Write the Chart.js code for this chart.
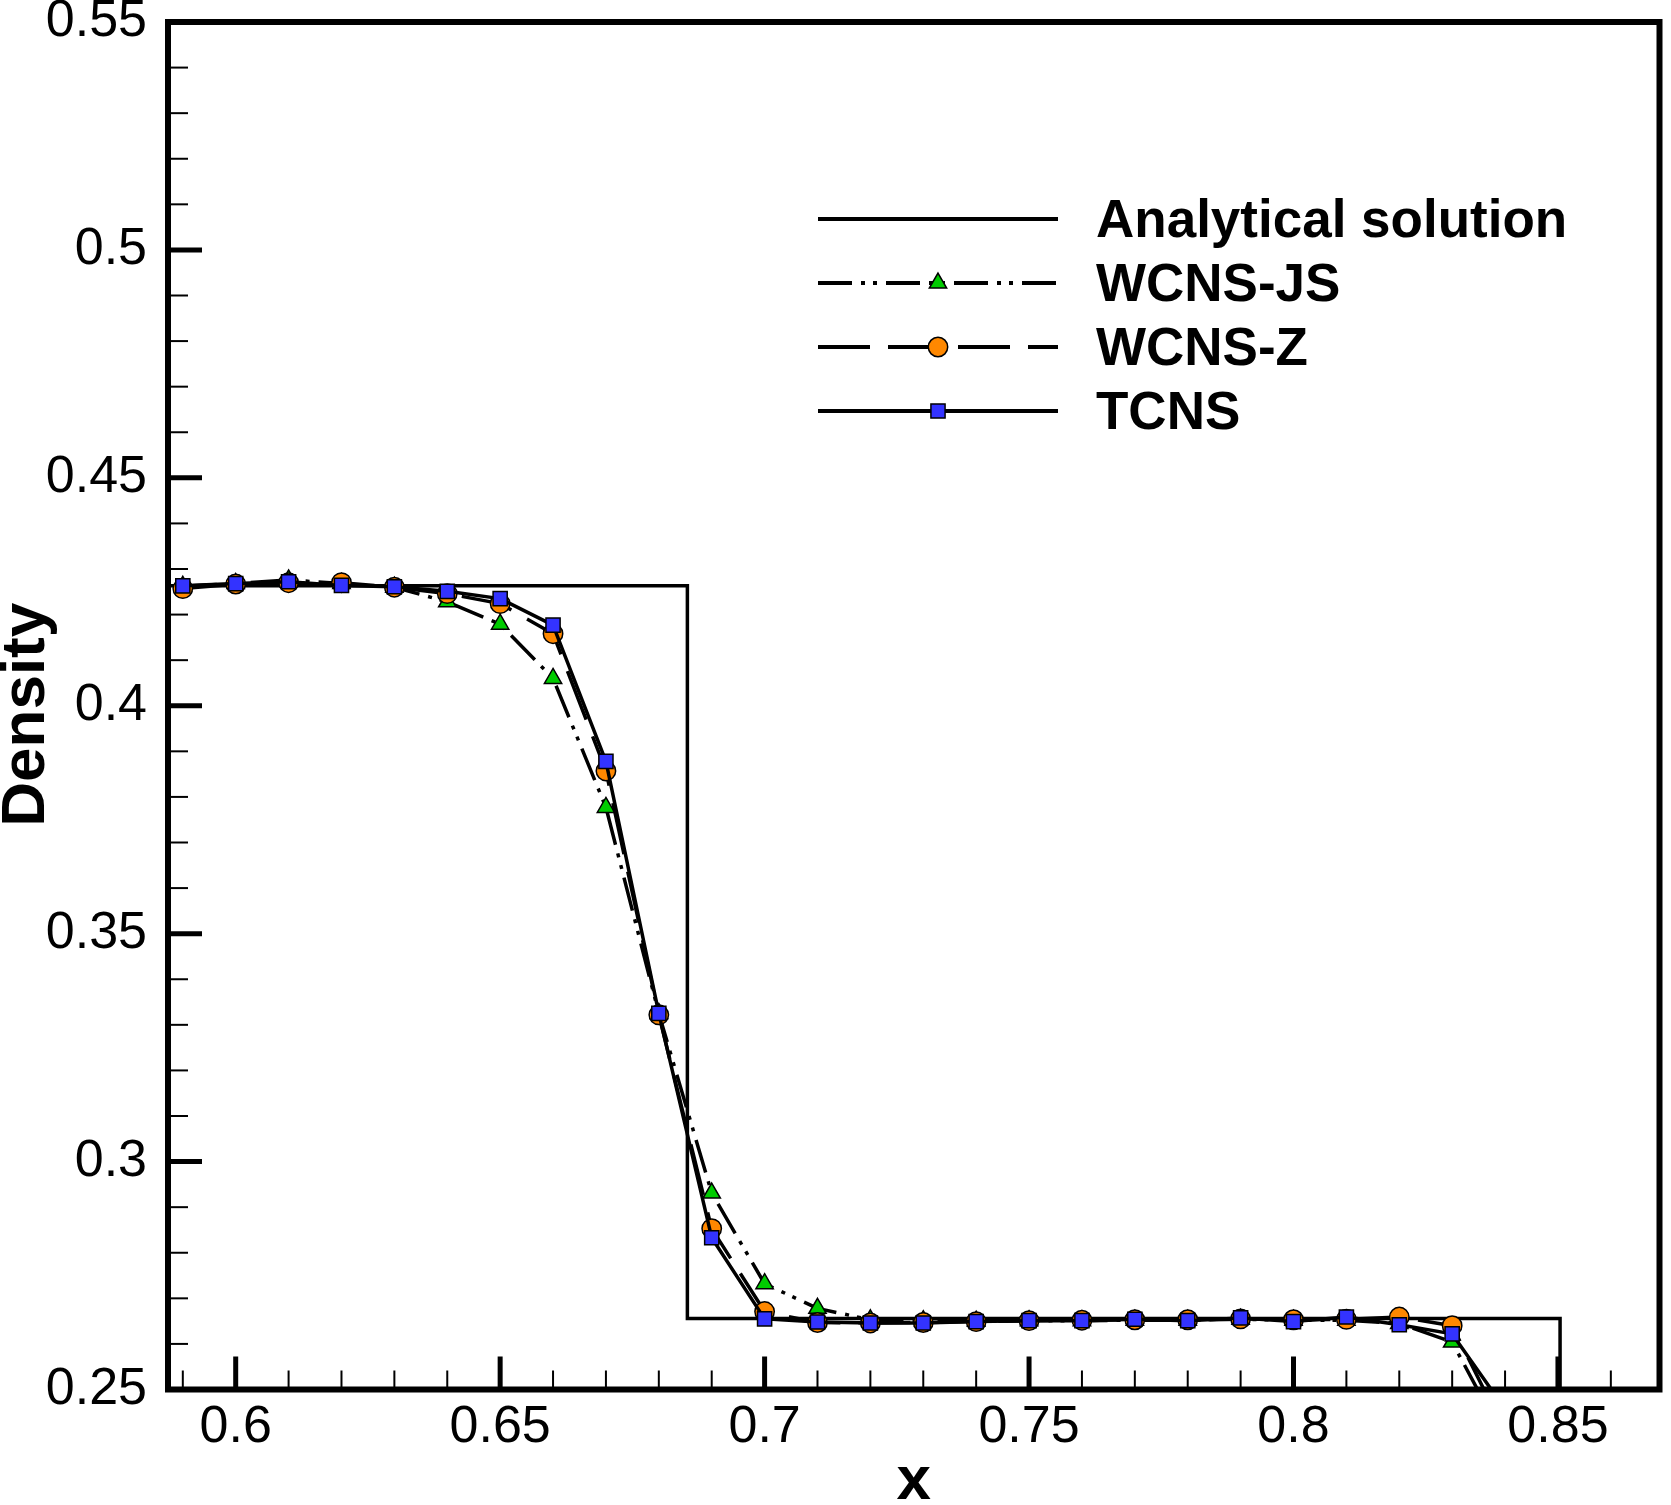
<!DOCTYPE html>
<html>
<head>
<meta charset="utf-8">
<script src="https://cdn.jsdelivr.net/npm/chart.js@4.4.1/dist/chart.umd.min.js"></script>
<style>
html,body{margin:0;padding:0;background:#fff;}
canvas{display:block;}
</style>
</head>
<body>
<canvas id="c" width="1671" height="1505"></canvas>
<script>
// ---------- data ----------
const xGrid  = [0.59,0.60,0.61,0.62,0.63,0.64,0.65,0.66,0.67,0.68,0.69,0.70,0.71,0.72,0.73,0.74,0.75,0.76,0.77,0.78,0.79,0.80,0.81,0.82,0.83,0.84];
const wcnsJS = [0.4262,0.4268,0.4276,0.4268,0.4260,0.4228,0.4179,0.4060,0.3777,0.3325,0.2931,0.2732,0.2678,0.2653,0.2651,0.2650,0.2651,0.2651,0.2652,0.2652,0.2654,0.2652,0.2652,0.2645,0.2604,0.2387];
const wcnsZ  = [0.4257,0.4267,0.4270,0.4270,0.4260,0.4246,0.4224,0.4158,0.3857,0.3322,0.2853,0.2671,0.2647,0.2646,0.2647,0.2649,0.2651,0.2652,0.2653,0.2653,0.2655,0.2653,0.2654,0.2659,0.2640,0.2407];
const tcns   = [0.4263,0.4268,0.4272,0.4264,0.4261,0.4251,0.4235,0.4177,0.3878,0.3325,0.2833,0.2655,0.2648,0.2646,0.2646,0.2649,0.2651,0.2651,0.2654,0.2651,0.2657,0.2649,0.2659,0.2642,0.2622,0.2457];
const exactX = [0.50,0.6854,0.6854,0.8504,0.8504];
const exactY = [0.4263,0.4263,0.2656,0.2656,0.10];
const seriesNames = ['Analytical solution','WCNS-JS','WCNS-Z','TCNS'];
const xTitle = 'x';
const yTitle = 'Density';
const xMajorTicks = [0.60,0.65,0.70,0.75,0.80,0.85];
const yMajorTicks = [0.25,0.30,0.35,0.40,0.45,0.50,0.55];
const xMinorTicks = [0.59,0.61,0.62,0.63,0.64,0.66,0.67,0.68,0.69,0.71,0.72,0.73,0.74,0.76,0.77,0.78,0.79,0.81,0.82,0.83,0.84,0.86];
const yMinorTicks = [0.26,0.27,0.28,0.29,0.31,0.32,0.33,0.34,0.36,0.37,0.38,0.39,0.41,0.42,0.43,0.44,0.46,0.47,0.48,0.49,0.51,0.52,0.53,0.54];
const xRange = [0.5872, 0.8692];
const yRange = [0.25, 0.55];

const FONT = '"Liberation Sans", Arial, Helvetica, sans-serif';
const pts = (xs, ys) => xs.map((x, i) => ({x: x, y: ys[i]}));
const fmt = v => String(Number(Number(v).toFixed(3)));

const JS_DASH = [34, 9, 4, 8, 4, 9];
const Z_DASH = [52, 18];

const datasets = [
  {label: seriesNames[0], data: pts(exactX, exactY), showLine: true, borderColor: '#000', borderWidth: 3.5,
   pointRadius: 0, order: 4, borderJoinStyle: 'miter'},
  {label: seriesNames[1], data: pts(xGrid, wcnsJS), showLine: true, borderColor: '#000', borderWidth: 3.5,
   borderDash: JS_DASH, pointStyle: 'triangle', pointRadius: 10, pointBackgroundColor: '#00cc00',
   pointBorderColor: '#000', pointBorderWidth: 1.5, order: 3, borderJoinStyle: 'round'},
  {label: seriesNames[2], data: pts(xGrid, wcnsZ), showLine: true, borderColor: '#000', borderWidth: 3.5,
   borderDash: Z_DASH, pointStyle: 'circle', pointRadius: 9.7, pointBackgroundColor: '#ff8800',
   pointBorderColor: '#000', pointBorderWidth: 1.5, order: 2, borderJoinStyle: 'round'},
  {label: seriesNames[3], data: pts(xGrid, tcns), showLine: true, borderColor: '#000', borderWidth: 3.5,
   pointStyle: 'rect', pointRadius: 10, pointBackgroundColor: '#3333ff',
   pointBorderColor: '#000', pointBorderWidth: 1.5, order: 1, borderJoinStyle: 'round'}
];
datasets.forEach(d => { d.clip = 0; d.pointHoverRadius = d.pointRadius; d.tension = 0; });

function drawMarker(ctx, style, cx, cy, r, fill) {
  ctx.save();
  ctx.setLineDash([]);
  ctx.fillStyle = fill; ctx.strokeStyle = '#000'; ctx.lineWidth = 1.5;
  ctx.beginPath();
  if (style === 'triangle') {
    for (let k = 0; k < 3; k++) {
      const a = k * 2 * Math.PI / 3;
      const px = cx + Math.sin(a) * r, py = cy - Math.cos(a) * r;
      if (k === 0) ctx.moveTo(px, py); else ctx.lineTo(px, py);
    }
    ctx.closePath();
  } else if (style === 'circle') {
    ctx.arc(cx, cy, r, 0, Math.PI * 2);
  } else if (style === 'rect') {
    const s = Math.SQRT1_2 * r;
    ctx.rect(cx - s, cy - s, 2 * s, 2 * s);
  }
  ctx.fill(); ctx.stroke();
  ctx.restore();
}

const framePlugin = {
  id: 'framePlugin',
  afterDatasetsDraw(chart) {
    const {ctx, chartArea: a, scales} = chart;
    const sx = scales.x, sy = scales.y;
    ctx.save();
    ctx.strokeStyle = '#000';
    ctx.lineCap = 'butt';
    ctx.setLineDash([]);
    const seg = (x1, y1, x2, y2) => { ctx.beginPath(); ctx.moveTo(x1, y1); ctx.lineTo(x2, y2); ctx.stroke(); };
    ctx.lineWidth = 2;
    xMinorTicks.forEach(v => { const p = sx.getPixelForValue(v); seg(p, a.bottom, p, a.bottom - 19); });
    yMinorTicks.forEach(v => { const p = sy.getPixelForValue(v); seg(a.left, p, a.left + 20, p); });
    ctx.lineWidth = 5;
    xMajorTicks.forEach(v => { const p = sx.getPixelForValue(v); seg(p, a.bottom, p, a.bottom - 33); });
    yMajorTicks.forEach(v => { const p = sy.getPixelForValue(v); seg(a.left, p, a.left + 34, p); });
    ctx.lineWidth = 6;
    ctx.strokeRect(a.left, a.top, a.right - a.left, a.bottom - a.top);
    ctx.restore();

    // y-axis title
    ctx.save();
    ctx.translate(26.5, (a.top + a.bottom) / 2 + 9);
    ctx.rotate(-Math.PI / 2);
    ctx.fillStyle = '#000';
    ctx.font = 'bold 62px ' + FONT;
    ctx.textAlign = 'center';
    ctx.textBaseline = 'middle';
    ctx.fillText(yTitle, 0, 0);
    ctx.restore();

    // legend
    const ds = chart.data.datasets;
    const lx1 = a.left + 650, lx2 = a.left + 890, mx = a.left + 770;
    const rowY = [219, 283, 347, 411];
    const fills = [null, '#00cc00', '#ff8800', '#3333ff'];
    const styles = [null, 'triangle', 'circle', 'rect'];
    ctx.save();
    for (let i = 0; i < 4; i++) {
      const d = ds[i];
      const yy = rowY[i];
      ctx.strokeStyle = '#000';
      ctx.lineWidth = 4;
      ctx.lineCap = 'butt';
      ctx.setLineDash(d.borderDash || []);
      ctx.lineDashOffset = 0;
      ctx.beginPath(); ctx.moveTo(lx1, yy); ctx.lineTo(lx2, yy); ctx.stroke();
      ctx.setLineDash([]);
      if (styles[i]) drawMarker(ctx, styles[i], mx, yy, d.pointRadius, fills[i]);
      ctx.fillStyle = '#000';
      ctx.font = 'bold 53px ' + FONT;
      ctx.textAlign = 'left';
      ctx.textBaseline = 'alphabetic';
      ctx.fillText(d.label, a.left + 928, yy + 18);
    }
    ctx.restore();
  }
};

new Chart(document.getElementById('c'), {
  type: 'scatter',
  data: {datasets: datasets},
  plugins: [framePlugin],
  options: {
    responsive: false,
    devicePixelRatio: 1,
    animation: false,
    events: [],
    layout: {padding: {left: 0, right: 5, top: 22, bottom: 0}},
    plugins: {legend: {display: false}, tooltip: {enabled: false}, title: {display: false}},
    scales: {
      x: {
        type: 'linear', min: xRange[0], max: xRange[1],
        grid: {display: false, drawTicks: false}, border: {display: false},
        ticks: {stepSize: 0.05, includeBounds: false, autoSkip: false, maxRotation: 0, padding: 7,
                color: '#000', font: {family: FONT, size: 52}, callback: v => fmt(v)},
        title: {display: true, text: xTitle, color: '#000', font: {family: FONT, size: 62, weight: 'bold', lineHeight: 0.7},
                padding: {top: 0, bottom: 1}},
        afterFit: s => { s.height = 115.5; s.paddingLeft = 0; s.paddingRight = 0; s.paddingTop = 0; s.paddingBottom = 0; }
      },
      y: {
        type: 'linear', min: yRange[0], max: yRange[1],
        grid: {display: false, drawTicks: false}, border: {display: false},
        ticks: {stepSize: 0.05, includeBounds: false, autoSkip: false, padding: 21,
                color: '#000', font: {family: FONT, size: 52}, callback: v => fmt(v)},
        title: {display: false, text: yTitle},
        afterFit: s => { s.width = 168; s.paddingLeft = 0; s.paddingRight = 0; s.paddingTop = 0; s.paddingBottom = 0; }
      }
    }
  }
});
</script>
</body>
</html>
